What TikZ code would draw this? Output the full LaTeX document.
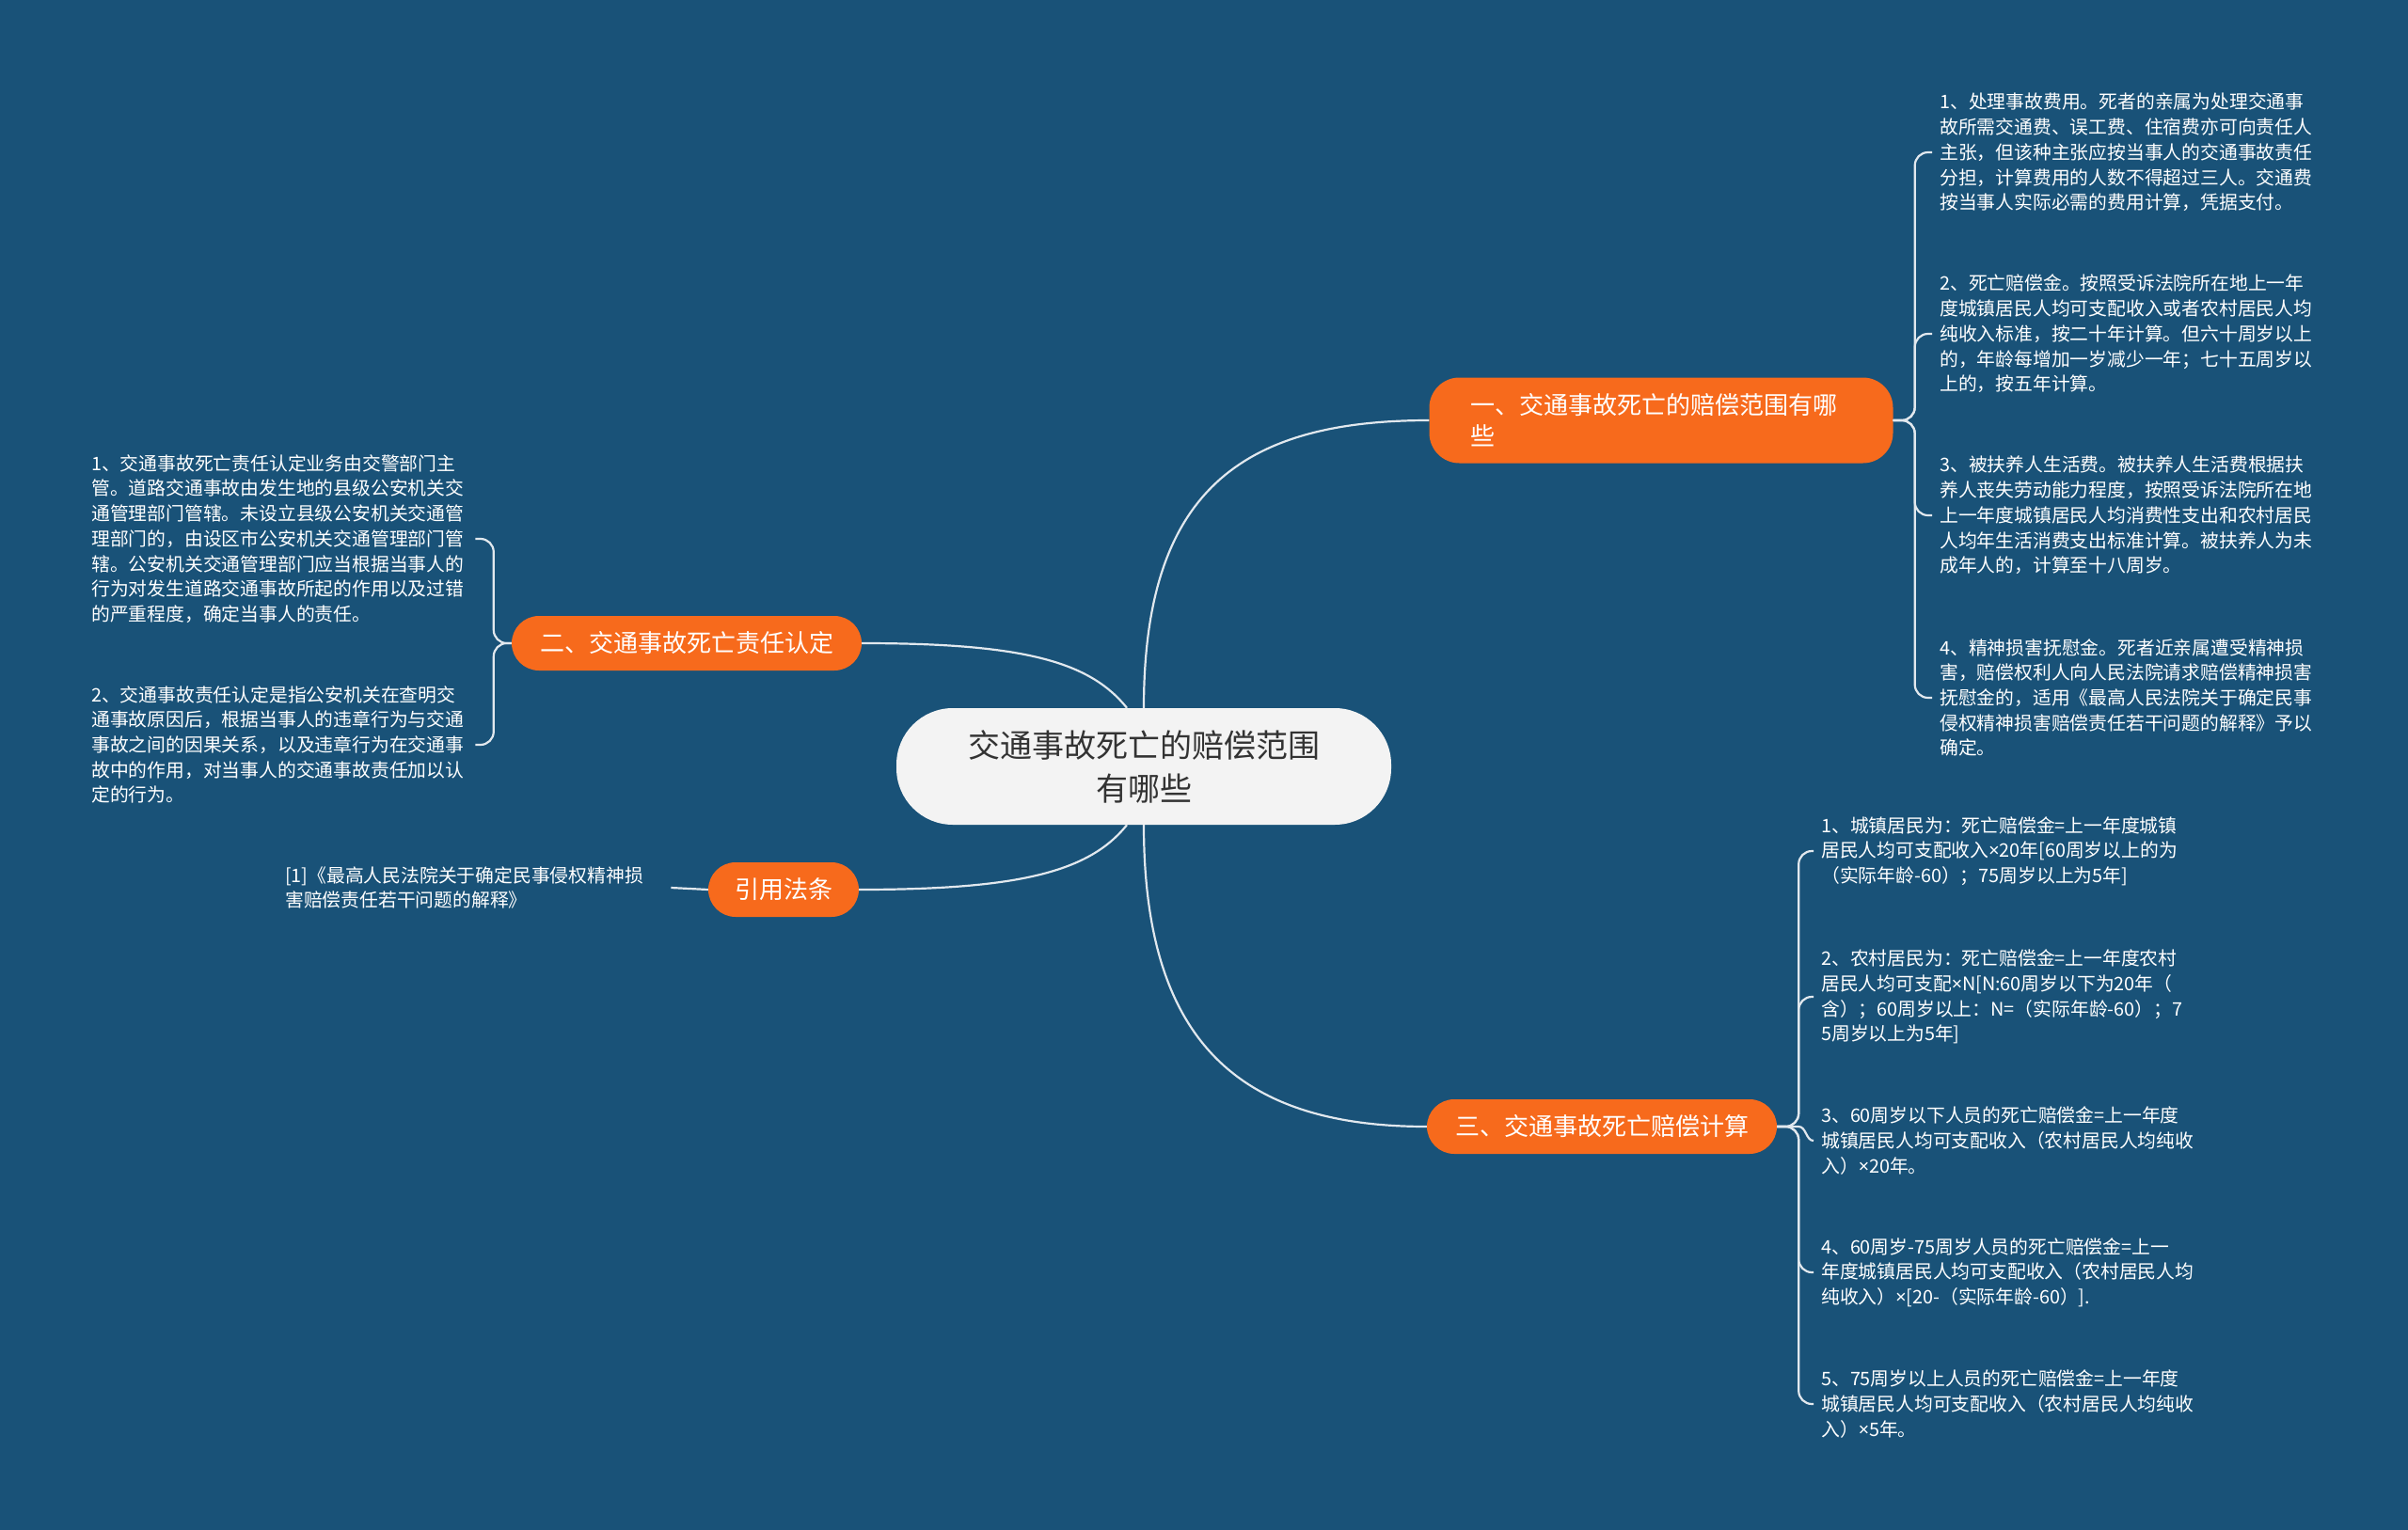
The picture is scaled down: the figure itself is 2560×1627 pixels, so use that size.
\documentclass[tikz,border=0pt]{standalone}
\usepackage{fontspec}
\usepackage{tikz}
\usetikzlibrary{positioning}
\newfontfamily\cjk{Noto Sans CJK SC}
\newfontfamily\latn{Noto Sans}
\newcommand\tms{{\latn ×}}
\definecolor{deepblue}{RGB}{25,82,120}
\definecolor{flame}{RGB}{247,106,28}
\definecolor{pale}{RGB}{243,243,243}
\definecolor{ink}{RGB}{51,51,51}
\definecolor{wire}{RGB}{225,232,238}
\begin{document}
\begin{tikzpicture}[x=1pt,y=-1pt,
 root/.style={rounded corners=60pt,fill=pale,text=ink,align=center,minimum width=526pt,minimum height=124pt,font=\cjk\fontsize{34}{46}\selectfont},
 topic/.style={rounded corners=29pt,fill=flame,text=white,minimum height=58pt,inner xsep=30pt,font=\cjk\fontsize{26}{33}\selectfont},
 leaf/.style={text=white,align=left,inner xsep=8pt,inner ysep=0pt,font=\cjk\fontsize{19.8}{26.7}\selectfont},
 link/.style={draw=wire,line width=2.2pt},
 fork/.style={link,rounded corners=14pt}]
\fill[deepblue] (0,0) rectangle (2560,1627);
\useasboundingbox (0,0) rectangle (2560,1627);
\node[root] (root) at (1216,815) {交通事故死亡的赔偿范围\\有哪些};
\node[topic,rounded corners=32pt,text width=405pt,align=left,inner xsep=44pt,minimum height=91pt] (b1) at (1766,447) {一、交通事故死亡的赔偿范围有哪\\些};
\node[topic] (b2) at (730,684) {二、交通事故死亡责任认定};
\node[topic,inner xsep=28pt] (ref) at (833,946) {引用法条};
\node[topic] (b3) at (1703,1198) {三、交通事故死亡赔偿计算};
\draw[link] (root.north) .. controls +(0,-230) and +(-200,0) .. (b1.west);
\draw[link] (root.south) .. controls +(0,230) and +(-200,0) .. (b3.west);
\draw[link] (b2.east) .. controls +(170,0) and +(-40,-50) .. ([xshift=-18pt]root.north);
\draw[link] (ref.east) .. controls +(170,0) and +(-40,50) .. ([xshift=-18pt]root.south);
\node[leaf,anchor=west] (r1) at (2054,162) {1、处理事故费用。死者的亲属为处理交通事\\故所需交通费、误工费、住宿费亦可向责任人\\主张，但该种主张应按当事人的交通事故责任\\分担，计算费用的人数不得超过三人。交通费\\按当事人实际必需的费用计算，凭据支付。};
\node[leaf,anchor=west] (r2) at (2054,355) {2、死亡赔偿金。按照受诉法院所在地上一年\\度城镇居民人均可支配收入或者农村居民人均\\纯收入标准，按二十年计算。但六十周岁以上\\的，年龄每增加一岁减少一年；七十五周岁以\\上的，按五年计算。};
\node[leaf,anchor=west] (r3) at (2054,548) {3、被扶养人生活费。被扶养人生活费根据扶\\养人丧失劳动能力程度，按照受诉法院所在地\\上一年度城镇居民人均消费性支出和农村居民\\人均年生活消费支出标准计算。被扶养人为未\\成年人的，计算至十八周岁。};
\node[leaf,anchor=west] (r4) at (2054,742) {4、精神损害抚慰金。死者近亲属遭受精神损\\害，赔偿权利人向人民法院请求赔偿精神损害\\抚慰金的，适用《最高人民法院关于确定民事\\侵权精神损害赔偿责任若干问题的解释》予以\\确定。};
\foreach \n in {r1,r2,r3,r4} \draw[fork] (b1.east) -- ++(23,0) |- (\n.west);
\node[leaf,anchor=west] (s1) at (1928,905) {1、城镇居民为：死亡赔偿金=上一年度城镇\\居民人均可支配收入\tms20年[60周岁以上的为\\（实际年龄-60）；75周岁以上为5年]};
\node[leaf,anchor=west] (s2) at (1928,1060) {2、农村居民为：死亡赔偿金=上一年度农村\\居民人均可支配\tms N[N:60周岁以下为20年（\\含）；60周岁以上：N=（实际年龄-60）；7\\5周岁以上为5年]};
\node[leaf,anchor=west] (s3) at (1928,1213) {3、60周岁以下人员的死亡赔偿金=上一年度\\城镇居民人均可支配收入（农村居民人均纯收\\入）\tms20年。};
\node[leaf,anchor=west] (s4) at (1928,1353) {4、60周岁-75周岁人员的死亡赔偿金=上一\\年度城镇居民人均可支配收入（农村居民人均\\纯收入）\tms[20-（实际年龄-60）].};
\node[leaf,anchor=west] (s5) at (1928,1493) {5、75周岁以上人员的死亡赔偿金=上一年度\\城镇居民人均可支配收入（农村居民人均纯收\\入）\tms5年。};
\foreach \n in {s1,s2,s4,s5} \draw[fork] (b3.east) -- ++(23,0) |- (\n.west);
\draw[link] (b3.east) -- ++(23,0) .. controls +(8,0) and +(-8,0) .. (s3.west);
\node[leaf,anchor=west,text width=400pt] (l1) at (89,573) {1、交通事故死亡责任认定业务由交警部门主\\管。道路交通事故由发生地的县级公安机关交\\通管理部门管辖。未设立县级公安机关交通管\\理部门的，由设区市公安机关交通管理部门管\\辖。公安机关交通管理部门应当根据当事人的\\行为对发生道路交通事故所起的作用以及过错\\的严重程度，确定当事人的责任。};
\node[leaf,anchor=west,text width=400pt] (l2) at (89,792) {2、交通事故责任认定是指公安机关在查明交\\通事故原因后，根据当事人的违章行为与交通\\事故之间的因果关系，以及违章行为在交通事\\故中的作用，对当事人的交通事故责任加以认\\定的行为。};
\foreach \n in {l1,l2} \draw[fork] (b2.west) -- ++(-19,0) |- (\n.east);
\node[leaf,anchor=west,text width=402pt] (c1) at (295,944) {[1]《最高人民法院关于确定民事侵权精神损\\害赔偿责任若干问题的解释》};
\draw[link] (ref.west) -- (c1.east);
\end{tikzpicture}
\end{document}
